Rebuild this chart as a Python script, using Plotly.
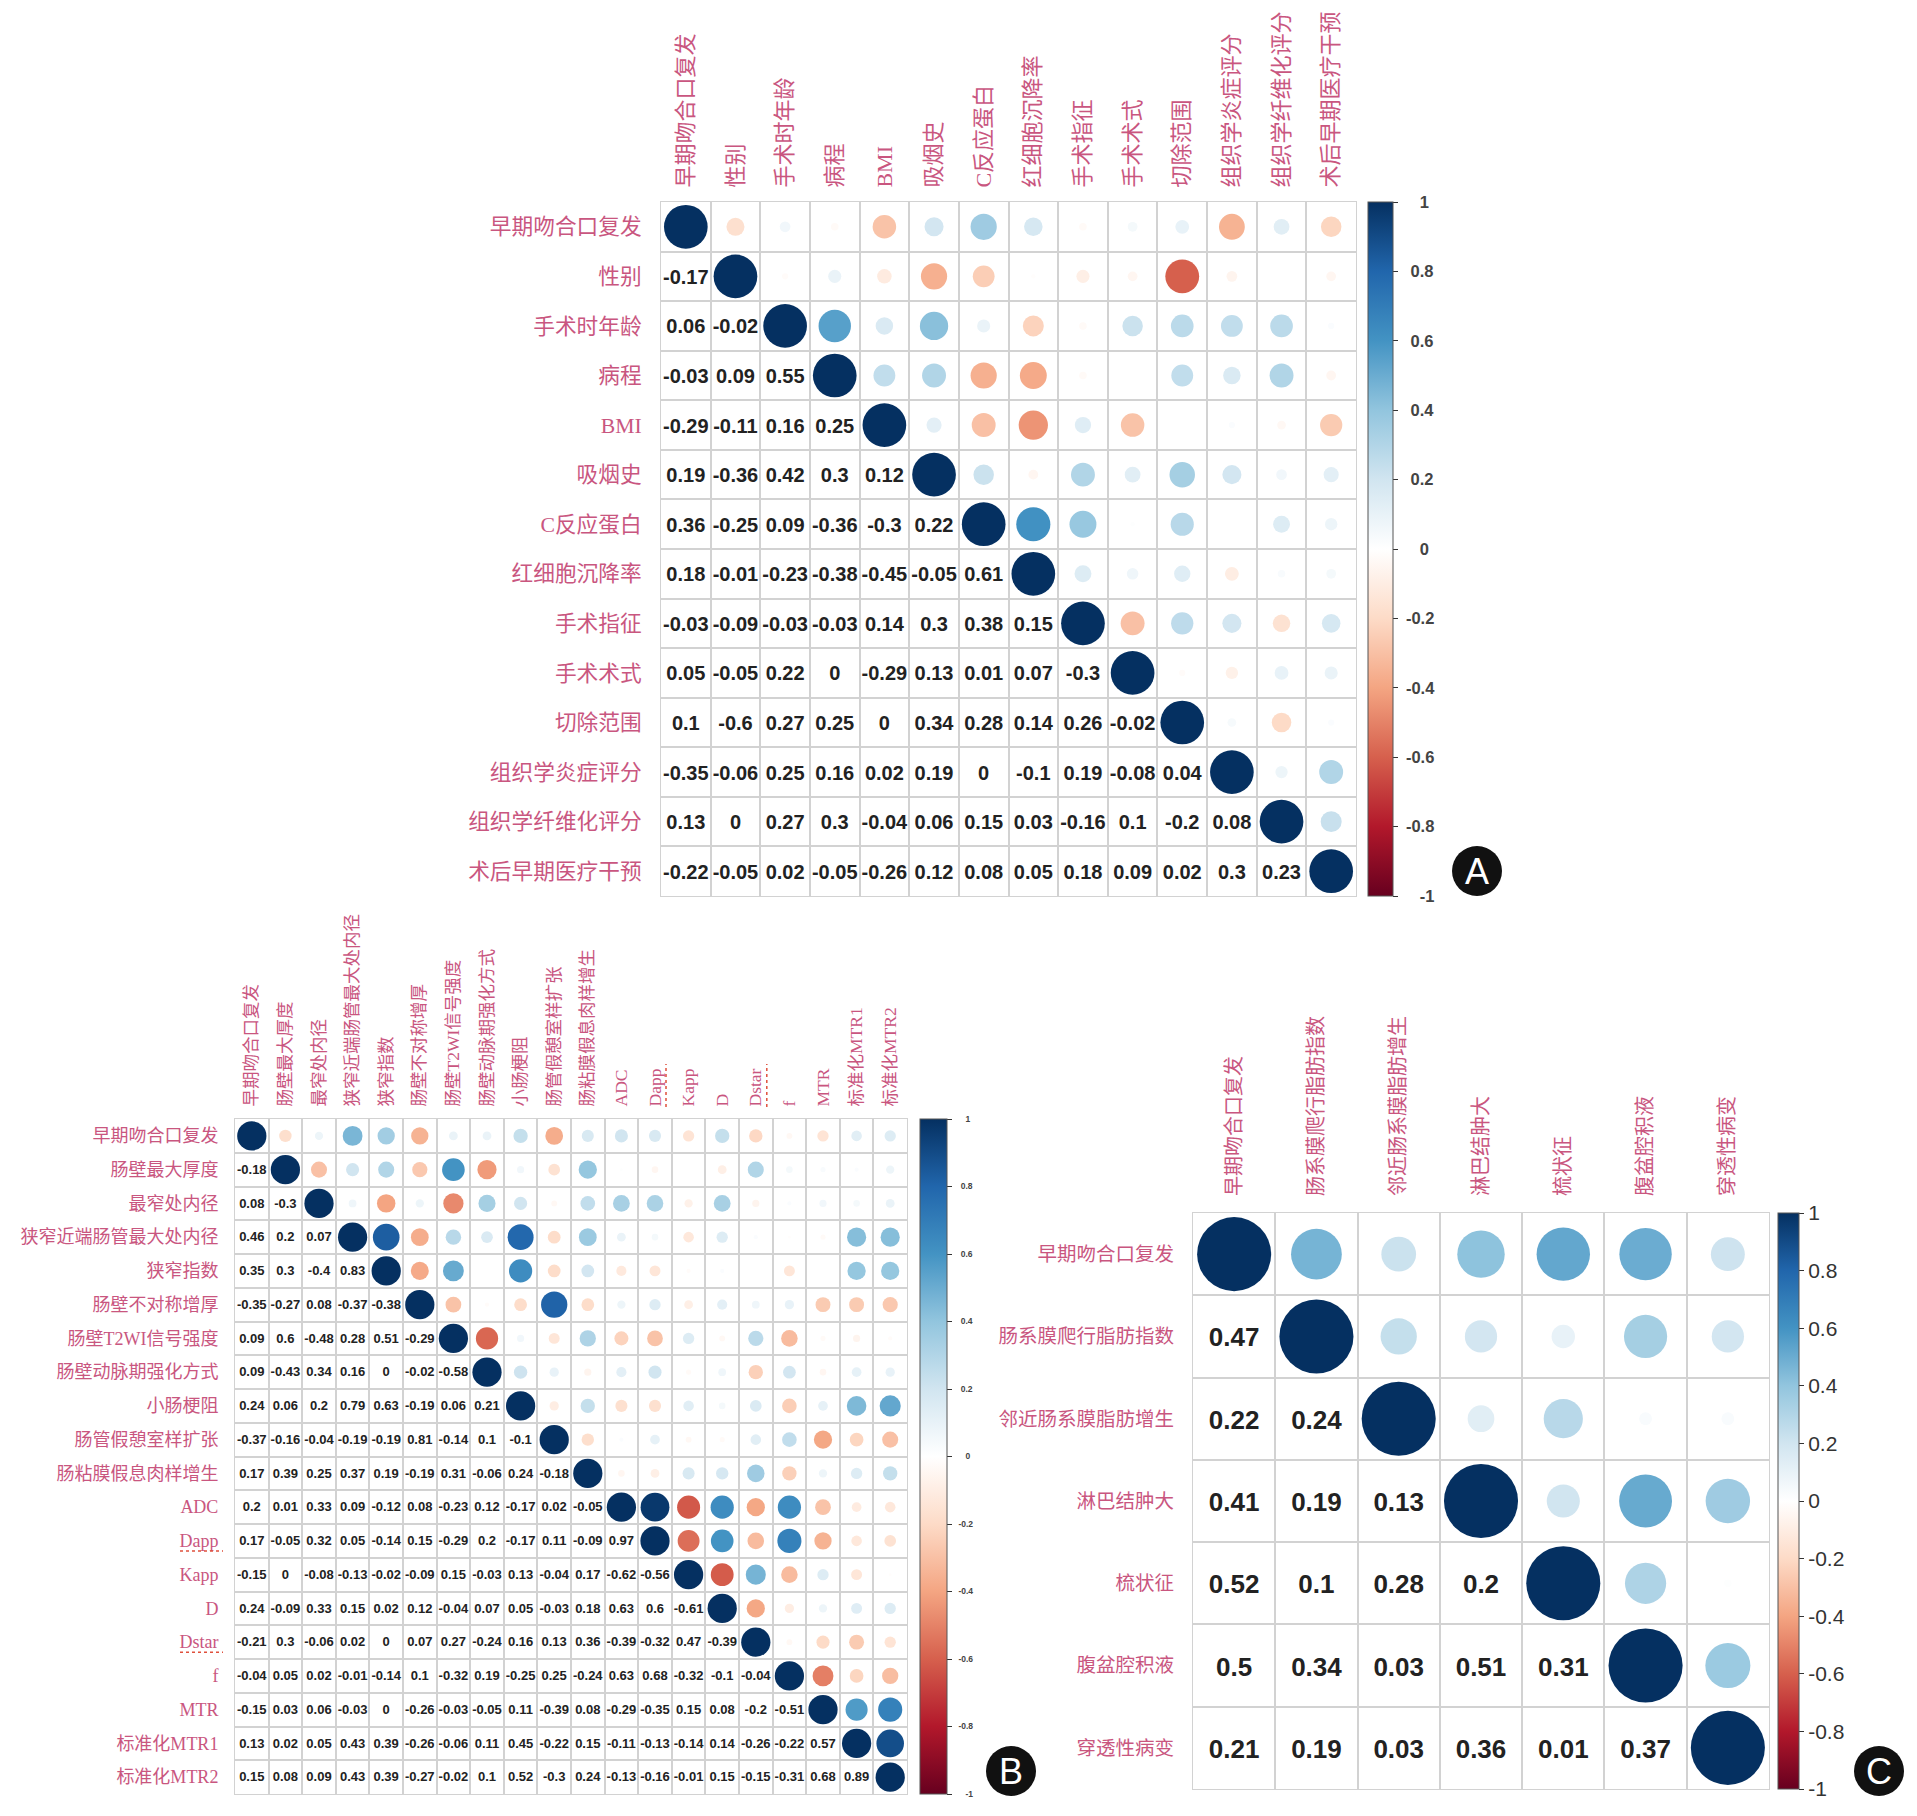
import plotly.graph_objects as go

W, H = 1917, 1816
PAGE = 8  # the browser's default body margin
FW, FH = W - 2 * PAGE, H - 2 * PAGE


def fx(px):
    return (px - PAGE) / FW


def fy(px):
    return 1 - (px - PAGE) / FH


labels_a = ["早期吻合口复发", "性别", "手术时年龄", "病程", "BMI", "吸烟史", "C反应蛋白", "红细胞沉降率",
            "手术指征", "手术术式", "切除范围", "组织学炎症评分", "组织学纤维化评分", "术后早期医疗干预"]
lower_a = [
    [],
    [-0.17],
    [0.06, -0.02],
    [-0.03, 0.09, 0.55],
    [-0.29, -0.11, 0.16, 0.25],
    [0.19, -0.36, 0.42, 0.3, 0.12],
    [0.36, -0.25, 0.09, -0.36, -0.3, 0.22],
    [0.18, -0.01, -0.23, -0.38, -0.45, -0.05, 0.61],
    [-0.03, -0.09, -0.03, -0.03, 0.14, 0.3, 0.38, 0.15],
    [0.05, -0.05, 0.22, 0, -0.29, 0.13, 0.01, 0.07, -0.3],
    [0.1, -0.6, 0.27, 0.25, 0, 0.34, 0.28, 0.14, 0.26, -0.02],
    [-0.35, -0.06, 0.25, 0.16, 0.02, 0.19, 0, -0.1, 0.19, -0.08, 0.04],
    [0.13, 0, 0.27, 0.3, -0.04, 0.06, 0.15, 0.03, -0.16, 0.1, -0.2, 0.08],
    [-0.22, -0.05, 0.02, -0.05, -0.26, 0.12, 0.08, 0.05, 0.18, 0.09, 0.02, 0.3, 0.23],
]

labels_b = ["早期吻合口复发", "肠壁最大厚度", "最窄处内径", "狭窄近端肠管最大处内径", "狭窄指数", "肠壁不对称增厚",
            "肠壁T2WI信号强度", "肠壁动脉期强化方式", "小肠梗阻", "肠管假憩室样扩张", "肠粘膜假息肉样增生",
            "ADC", "Dapp", "Kapp", "D", "Dstar", "f", "MTR", "标准化MTR1", "标准化MTR2"]
lower_b = [
    [],
    [-0.18],
    [0.08, -0.3],
    [0.46, 0.2, 0.07],
    [0.35, 0.3, -0.4, 0.83],
    [-0.35, -0.27, 0.08, -0.37, -0.38],
    [0.09, 0.6, -0.48, 0.28, 0.51, -0.29],
    [0.09, -0.43, 0.34, 0.16, 0, -0.02, -0.58],
    [0.24, 0.06, 0.2, 0.79, 0.63, -0.19, 0.06, 0.21],
    [-0.37, -0.16, -0.04, -0.19, -0.19, 0.81, -0.14, 0.1, -0.1],
    [0.17, 0.39, 0.25, 0.37, 0.19, -0.19, 0.31, -0.06, 0.24, -0.18],
    [0.2, 0.01, 0.33, 0.09, -0.12, 0.08, -0.23, 0.12, -0.17, 0.02, -0.05],
    [0.17, -0.05, 0.32, 0.05, -0.14, 0.15, -0.29, 0.2, -0.17, 0.11, -0.09, 0.97],
    [-0.15, 0, -0.08, -0.13, -0.02, -0.09, 0.15, -0.03, 0.13, -0.04, 0.17, -0.62, -0.56],
    [0.24, -0.09, 0.33, 0.15, 0.02, 0.12, -0.04, 0.07, 0.05, -0.03, 0.18, 0.63, 0.6, -0.61],
    [-0.21, 0.3, -0.06, 0.02, 0, 0.07, 0.27, -0.24, 0.16, 0.13, 0.36, -0.39, -0.32, 0.47, -0.39],
    [-0.04, 0.05, 0.02, -0.01, -0.14, 0.1, -0.32, 0.19, -0.25, 0.25, -0.24, 0.63, 0.68, -0.32, -0.1, -0.04],
    [-0.15, 0.03, 0.06, -0.03, 0, -0.26, -0.03, -0.05, 0.11, -0.39, 0.08, -0.29, -0.35, 0.15, 0.08, -0.2, -0.51],
    [0.13, 0.02, 0.05, 0.43, 0.39, -0.26, -0.06, 0.11, 0.45, -0.22, 0.15, -0.11, -0.13, -0.14, 0.14, -0.26, -0.22, 0.57],
    [0.15, 0.08, 0.09, 0.43, 0.39, -0.27, -0.02, 0.1, 0.52, -0.3, 0.24, -0.13, -0.16, -0.01, 0.15, -0.15, -0.31, 0.68, 0.89],
]

labels_c = ["早期吻合口复发", "肠系膜爬行脂肪指数", "邻近肠系膜脂肪增生", "淋巴结肿大", "梳状征", "腹盆腔积液", "穿透性病变"]
lower_c = [
    [],
    [0.47],
    [0.22, 0.24],
    [0.41, 0.19, 0.13],
    [0.52, 0.1, 0.28, 0.2],
    [0.5, 0.34, 0.03, 0.51, 0.31],
    [0.21, 0.19, 0.03, 0.36, 0.01, 0.37],
]

legend_ticks = [1, 0.8, 0.6, 0.4, 0.2, 0, -0.2, -0.4, -0.6, -0.8, -1]

palette = ["#67001F", "#B2182B", "#D6604D", "#F4A582", "#FDDBC7", "#FFFFFF",
           "#D1E5F0", "#92C5DE", "#4393C3", "#2166AC", "#053061"]
scale = [[i / 10, c] for i, c in enumerate(palette)]

PINK = "#C9567F"
GRID = "#D2D2D2"
SERIF = "Liberation Serif, Noto Sans CJK SC"
SANS = "Liberation Sans, Arial"

panels = [
    dict(labels=labels_a, lower=lower_a, x0=661, x1=1356, y0=202, y1=896, top=22, left=21.7, num=20, ratio=0.88,
         cb_x=1368, cb_w=25, cb_font=16.5, cb_bold=True, pad=1, top_off=9, left_off=14, tick_color="#444444", nudge=2.5),
    dict(labels=labels_b, lower=lower_b, x0=235, x1=907, y0=1119, y1=1794, top=17.5, left=18, num=13, ratio=0.87,
         cb_x=920, cb_w=27, cb_font=8.5, cb_bold=True, pad=2, top_off=8, left_off=12, tick_color="#444444", nudge=1),
    dict(labels=labels_c, lower=lower_c, x0=1193, x1=1769, y0=1213, y1=1789, top=20, left=19.5, num=26, ratio=0.9,
         cb_x=1778, cb_w=21, cb_font=21, cb_bold=False, pad=None, top_off=12, left_off=14, tick_color="#333333", nudge=3.5),
]


def pad_label(v, pad):
    s = str(v)
    if pad is None:
        return s
    n = {4: 0, 3: 1}.get(len(s), 3) + pad
    return "\u00a0" * n + s


fig = go.Figure()
layout = dict(width=FW, height=FH, margin=dict(l=0, r=0, t=0, b=0), paper_bgcolor="white", plot_bgcolor="white",
              showlegend=False, font=dict(family=SERIF))

for k, p in enumerate(panels):
    sfx = "" if k == 0 else str(k + 1)
    labels, lower = p["labels"], p["lower"]
    n = len(labels)
    cell = (p["x1"] - p["x0"]) / n
    cx, cy, cv = [], [], []
    tx, ty, tt = [], [], []
    for r, row in enumerate(lower):
        for c, v in enumerate(row):
            cx.append(r)      # the mirrored value is a circle in the upper triangle
            cy.append(c)
            cv.append(v)
            tx.append(c)
            ty.append(r + p["nudge"] / cell)
            tt.append(str(v))
        cx.append(r)
        cy.append(r)
        cv.append(1)
    sizes = [p["ratio"] * cell * abs(v) ** 0.5 for v in cv]
    fig.add_trace(go.Scatter(x=cx, y=cy, mode="markers", xaxis="x" + sfx, yaxis="y" + sfx, hoverinfo="skip",
                             marker=dict(size=sizes, sizemode="diameter", color=cv, line=dict(width=0), opacity=1,
                                         coloraxis="coloraxis" + sfx)))
    fig.add_trace(go.Scatter(x=tx, y=ty, mode="text", text=tt, xaxis="x" + sfx, yaxis="y" + sfx, hoverinfo="skip",
                             textposition="middle center",
                             textfont=dict(family=SANS, size=p["num"], color="#222222", weight="bold")))
    edges = [i - 0.5 for i in range(n + 1)]
    common = dict(showgrid=False, zeroline=False, showline=True, mirror=True, linecolor=GRID, linewidth=1,
                  ticks="", tickmode="array", tickvals=list(range(n)), ticktext=labels,
                  minor=dict(tickmode="array", tickvals=edges, showgrid=True, gridcolor=GRID, gridwidth=1.6, ticks=""))
    layout["xaxis" + sfx] = dict(common, domain=[fx(p["x0"]), fx(p["x1"])], range=[-0.5, n - 0.5], side="top",
                                 anchor="y" + sfx, tickangle=-90, ticklabelstandoff=p["top_off"],
                                 tickfont=dict(family=SERIF, size=p["top"], color=PINK))
    layout["yaxis" + sfx] = dict(common, domain=[fy(p["y1"]), fy(p["y0"])], range=[n - 0.5, -0.5], side="left",
                                 anchor="x" + sfx, ticklabelstandoff=p["left_off"],
                                 tickfont=dict(family=SERIF, size=p["left"], color=PINK))
    layout["coloraxis" + sfx] = dict(
        cmin=-1, cmax=1, colorscale=scale,
        colorbar=dict(x=fx(p["cb_x"]), xanchor="left", xref="paper", y=fy(p["y0"]), yanchor="top", yref="paper",
                      len=(p["y1"] - p["y0"]) / FH, lenmode="fraction", thickness=p["cb_w"], thicknessmode="pixels",
                      xpad=0, ypad=0, outlinewidth=1, outlinecolor="#555555",
                      tickmode="array", tickvals=legend_ticks,
                      ticktext=[pad_label(v, p["pad"]) for v in legend_ticks],
                      ticks="outside", ticklen=5, tickwidth=1, tickcolor="#333333",
                      tickfont=dict(family=SANS, size=p["cb_font"], color=p["tick_color"],
                                    weight="bold" if p["cb_bold"] else "normal")))

badges = [("A", 1477, 871), ("B", 1011, 1771), ("C", 1879, 1771)]
shapes, annotations = [], []
for name, bx, by in badges:
    shapes.append(dict(type="circle", xref="paper", yref="paper", x0=fx(bx - 25), x1=fx(bx + 25),
                       y0=fy(by + 25), y1=fy(by - 25), fillcolor="#111111", line=dict(width=0)))
    annotations.append(dict(text=name, x=fx(bx), y=fy(by), xref="paper", yref="paper", showarrow=False,
                            xanchor="center", yanchor="middle", font=dict(family=SANS, size=36, color="white")))

# red spell-check underlines under the two flagged labels of panel B
b = panels[1]
b_cell = (b["x1"] - b["x0"]) / len(labels_b)
b_rowh = (b["y1"] - b["y0"]) / len(labels_b)
for name in ["Dapp", "Dstar"]:
    i = labels_b.index(name)
    ly = b["y0"] + (i + 0.5) * b_rowh + 10
    lx = b["x0"] + (i + 0.5) * b_cell + 11
    shapes.append(dict(type="line", xref="paper", yref="paper", x0=fx(b["x0"] - 55), x1=fx(b["x0"] - 12),
                       y0=fy(ly), y1=fy(ly), line=dict(color="#E0503C", width=1.5, dash="dot")))
    shapes.append(dict(type="line", xref="paper", yref="paper", x0=fx(lx), x1=fx(lx),
                       y0=fy(b["y0"] - 12), y1=fy(b["y0"] - 55), line=dict(color="#E0503C", width=1.5, dash="dot")))

layout["shapes"] = shapes
layout["annotations"] = annotations
fig.update_layout(**layout)
fig.write_html("out.html")
